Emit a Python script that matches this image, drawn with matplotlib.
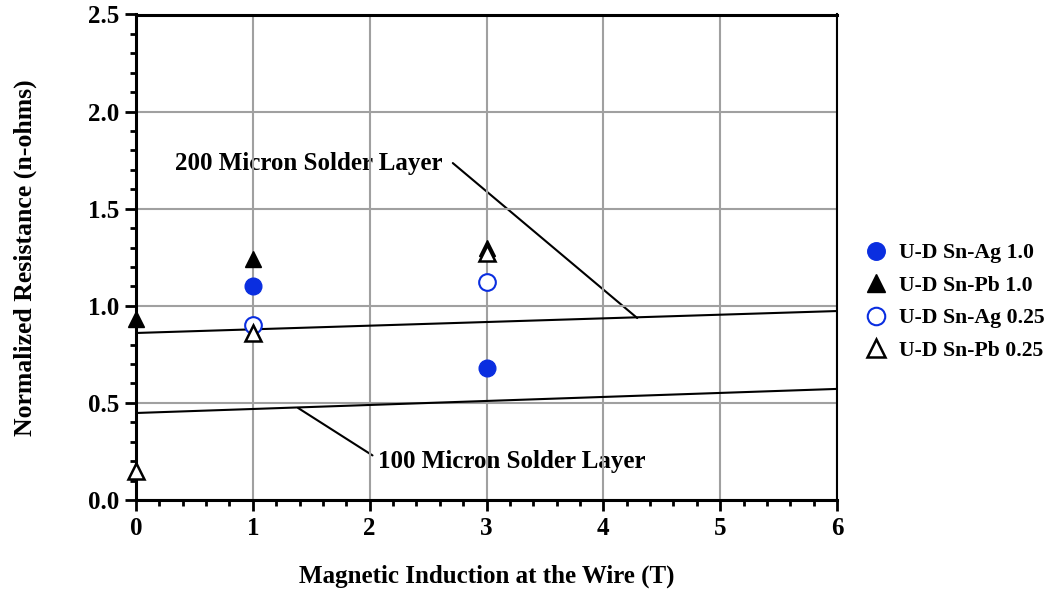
import matplotlib
matplotlib.use("Agg")
import matplotlib.pyplot as plt
from matplotlib.ticker import MultipleLocator, FormatStrFormatter

plt.rcParams['font.family'] = ['Liberation Serif', 'DejaVu Serif']
plt.rcParams['font.weight'] = 'bold'

# Data
snag_10_x = [1, 3]
snag_10_y = [1.10, 0.68]
snpb_10_x = [0, 1, 3]
snpb_10_y = [0.93, 1.24, 1.30]
snag_025_x = [1, 3]
snag_025_y = [0.90, 1.12]
snpb_025_x = [0, 1, 3]
snpb_025_y = [0.15, 0.86, 1.27]

line200_x = [0, 6]
line200_y = [0.86, 0.973]
line100_x = [0, 6]
line100_y = [0.448, 0.572]

labels = ["U-D Sn-Ag 1.0", "U-D Sn-Pb 1.0", "U-D Sn-Ag 0.25", "U-D Sn-Pb 0.25"]
blue = '#0a2ee0'

fig = plt.figure(figsize=(10.5, 5.93), dpi=100)
ax = fig.add_axes([136/1050, 1-500/593, (837-136)/1050, (500-14.5)/593])

ax.plot(line200_x, line200_y, color='black', lw=1.5, zorder=3)
ax.plot(line100_x, line100_y, color='black', lw=1.5, zorder=3)

ms = 12
h1, = ax.plot(snag_10_x, snag_10_y, 'o', ms=ms, color=blue, mec=blue, ls='none', zorder=5, clip_on=False)
h2, = ax.plot(snpb_10_x, snpb_10_y, '^', ms=ms, color='black', ls='none', zorder=5, clip_on=False)
h3, = ax.plot(snag_025_x, snag_025_y, 'o', ms=ms, mfc='white', mec=blue, mew=1.5, ls='none', zorder=5, clip_on=False)
h4, = ax.plot(snpb_025_x, snpb_025_y, '^', ms=ms, mfc='white', mec='black', mew=1.8, ls='none', zorder=5, clip_on=False)

ax.set_xlim(0, 6)
ax.set_ylim(0, 2.5)
ax.xaxis.set_major_locator(MultipleLocator(1))
ax.xaxis.set_minor_locator(MultipleLocator(0.2))
ax.yaxis.set_major_locator(MultipleLocator(0.5))
ax.yaxis.set_minor_locator(MultipleLocator(0.1))
ax.yaxis.set_major_formatter(FormatStrFormatter('%.1f'))
ax.grid(True, which='major', color='#a0a0a0', lw=1.5)
ax.set_axisbelow(True)

for s in ['left', 'bottom', 'top']:
    ax.spines[s].set_linewidth(2.2)
ax.spines['right'].set_linewidth(1.5)
ax.tick_params(which='major', direction='out', length=8, width=2, labelsize=18, pad=4)
ax.tick_params(which='minor', direction='out', length=4.5, width=2)
ax.tick_params(which='both', top=False, right=False)
for lab in ax.get_xticklabels() + ax.get_yticklabels():
    lab.set_fontweight('bold')

ax.set_xlabel("Magnetic Induction at the Wire (T)", fontsize=18, fontweight='bold', labelpad=18)
ax.set_ylabel("Normalized Resistance (n-ohms)", fontsize=18.5, fontweight='bold', labelpad=37)

a1 = ax.annotate("200 Micron Solder Layer", xy=(4.29, 0.937), xytext=(2.62, 1.735),
                 fontsize=18, fontweight='bold', ha='right', va='center', zorder=0.4,
                 arrowprops=dict(arrowstyle='-', color='black', lw=1.5, shrinkA=0, shrinkB=0,
                                 relpos=(1.04, 0.5)))
a2 = ax.annotate("100 Micron Solder Layer", xy=(1.387, 0.474), xytext=(2.07, 0.2),
                 fontsize=18, fontweight='bold', ha='left', va='center', zorder=0.4,
                 arrowprops=dict(arrowstyle='-', color='black', lw=1.5, shrinkA=0, shrinkB=0,
                                 relpos=(-0.02, 0.75)))

fig.legend([h1, h2, h3, h4], labels, loc='upper left', bbox_to_anchor=(863/1050, 1-243/593),
           frameon=False, handlelength=1.2, handletextpad=0.47, borderpad=0, borderaxespad=0,
           labelspacing=0.56, markerscale=1.05, prop={'weight': 'bold', 'size': 15.7})

fig.savefig("out.png", dpi=100)
